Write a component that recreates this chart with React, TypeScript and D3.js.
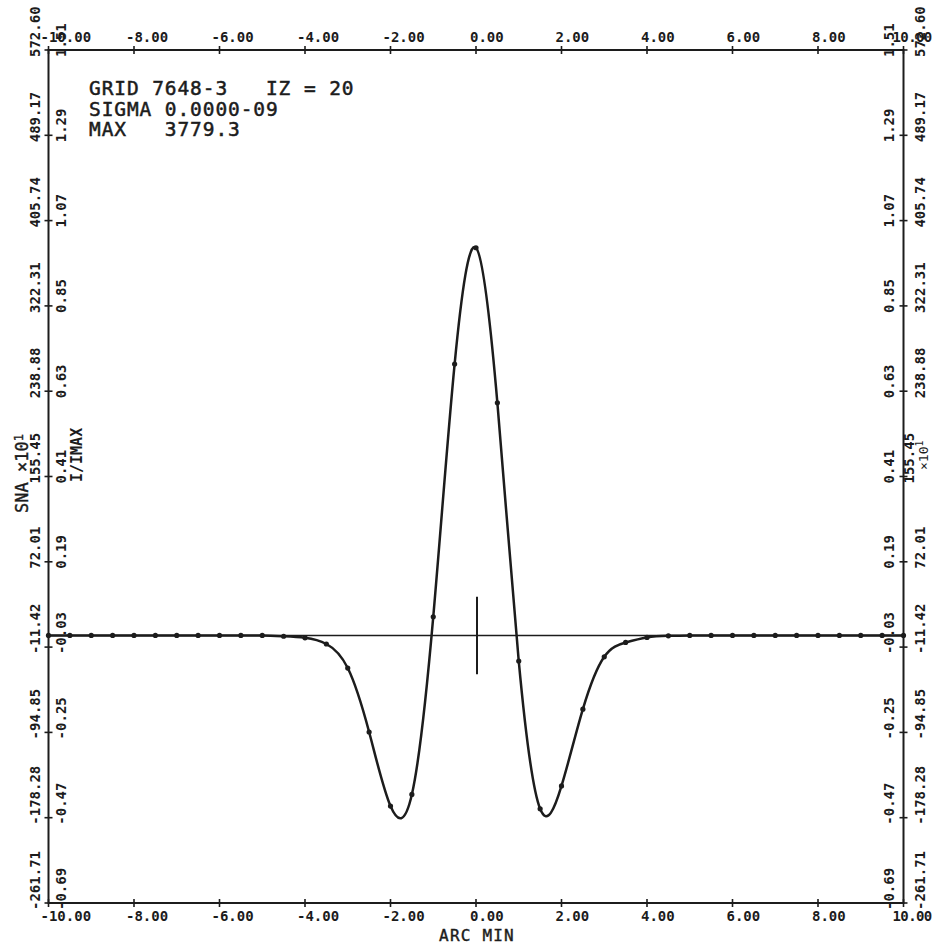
import React, { useEffect, useRef } from "react";
import * as d3 from "d3";

// sample points of the plotted curve (ARC MIN, I/IMAX)
const sampleX = [
  -10, -9.5, -9, -8.5, -8, -7.5, -7, -6.5, -6, -5.5, -5, -4.5, -4, -3.5, -3,
  -2.5, -2, -1.5, -1, -0.5, 0, 0.5, 1, 1.5, 2, 2.5, 3, 3.5, 4, 4.5, 5, 5.5, 6,
  6.5, 7, 7.5, 8, 8.5, 9, 9.5, 10
];
const sampleY = [
  0, 0, 0, 0, 0, 0, 0, 0, 0, 0, 0, -0.002, -0.006, -0.022, -0.084, -0.249,
  -0.44, -0.41, 0.048, 0.7, 1.0, 0.6, -0.066, -0.447, -0.388, -0.19, -0.055,
  -0.018, -0.005, -0.001, 0, 0, 0, 0, 0, 0, 0, 0, 0, 0, 0
];

const xTicks = [-10, -8, -6, -4, -2, 0, 2, 4, 6, 8, 10];
const xTickLabels = ["-10.00", "-8.00", "-6.00", "-4.00", "-2.00", "0.00", "2.00", "4.00", "6.00", "8.00", "10.00"];

const yTicks = [1.51, 1.29, 1.07, 0.85, 0.63, 0.41, 0.19, -0.03, -0.25, -0.47, -0.69];
const ratioLabels = ["1.51", "1.29", "1.07", "0.85", "0.63", "0.41", "0.19", "-0.03", "-0.25", "-0.47", "-0.69"];
const snaLabels = ["572.60", "489.17", "405.74", "322.31", "238.88", "155.45", "72.01", "-11.42", "-94.85", "-178.28", "-261.71"];

const header = ["GRID 7648-3   IZ = 20", "SIGMA 0.0000-09", "MAX   3779.3"];
const centerMark = [-0.1, 0.1];

const INK = "#1c1c1c";

export default function App() {
  const ref = useRef<SVGSVGElement>(null);

  useEffect(() => {
    const svg = d3.select(ref.current);
    svg.selectAll("*").remove();

    const x = d3.scaleLinear().domain([-10, 10]).range([48.5, 903.5]);
    const y = d3.scaleLinear().domain([-0.69, 1.51]).range([903, 50]);
    const mono = "'DejaVu Sans Mono', monospace";

    // zero line
    svg
      .append("line")
      .attr("x1", x(-10))
      .attr("x2", x(10))
      .attr("y1", y(0))
      .attr("y2", y(0))
      .attr("stroke", INK)
      .attr("stroke-width", 1.6);

    // frame
    svg
      .append("rect")
      .attr("x", x(-10))
      .attr("y", y(1.51))
      .attr("width", x(10) - x(-10))
      .attr("height", y(-0.69) - y(1.51))
      .attr("fill", "none")
      .attr("stroke", INK)
      .attr("stroke-width", 2);

    // x ticks + labels (top and bottom)
    xTicks.forEach((t, i) => {
      [y(1.51), y(-0.69)].forEach((yy) => {
        svg
          .append("line")
          .attr("x1", x(t))
          .attr("x2", x(t))
          .attr("y1", yy - 4)
          .attr("y2", yy + 4)
          .attr("stroke", INK)
          .attr("stroke-width", 1.6);
      });
      const lbl = xTickLabels[i];
      let off = lbl.startsWith("-") ? 8 : 6;
      if (t === 10) off = 11;
      [42, 921].forEach((by) => {
        svg
          .append("text")
          .attr("x", x(t) - off)
          .attr("y", by)
          .attr("font-family", mono)
          .attr("font-weight", "bold")
          .attr("font-size", 14)
          .attr("letter-spacing", t === 10 ? -0.6 : 0)
          .attr("fill", INK)
          .text(lbl);
      });
    });

    // y ticks + rotated labels (left and right)
    const rotText = (cx: number, cy: number, txt: string, size = 14) =>
      svg
        .append("text")
        .attr("transform", `translate(${cx},${cy}) rotate(-90)`)
        .attr("dy", "0.35em")
        .attr("font-family", mono)
        .attr("font-weight", "bold")
        .attr("font-size", size)
        .attr("fill", INK)
        .text(txt);

    yTicks.forEach((t, i) => {
      [x(-10), x(10)].forEach((xx) => {
        svg
          .append("line")
          .attr("x1", xx - 4)
          .attr("x2", xx + 4)
          .attr("y1", y(t))
          .attr("y2", y(t))
          .attr("stroke", INK)
          .attr("stroke-width", 1.6);
      });
      const yy = y(t) + 7;
      rotText(35, yy, snaLabels[i]);
      rotText(61, yy, ratioLabels[i]);
      rotText(889, yy, ratioLabels[i]);
      rotText(i === 5 ? 909 : 920, yy, snaLabels[i]);
    });

    // axis titles
    const leftTitle = svg
      .append("text")
      .attr("transform", "translate(22,513) rotate(-90)")
      .attr("dy", "0.35em")
      .attr("font-family", mono)
      .attr("font-size", 17)
      .attr("stroke", INK)
      .attr("stroke-width", 0.4)
      .attr("fill", INK);
    leftTitle.append("tspan").text("SNA  ×10");
    leftTitle.append("tspan").attr("dy", "-0.45em").attr("font-size", 12).text("1");

    rotText(77, 482, "I/IMAX", 15);

    const rightTitle = svg
      .append("text")
      .attr("transform", "translate(923,470) rotate(-90)")
      .attr("dy", "0.35em")
      .attr("font-family", mono)
      .attr("font-size", 13)
      .attr("fill", INK);
    rightTitle.append("tspan").text("×10");
    rightTitle.append("tspan").attr("dy", "-0.45em").attr("font-size", 10).text("1");

    svg
      .append("text")
      .attr("x", 477)
      .attr("y", 941)
      .attr("text-anchor", "middle")
      .attr("font-family", mono)
      .attr("font-size", 16)
      .attr("letter-spacing", 1.2)
      .attr("stroke", INK)
      .attr("stroke-width", 0.4)
      .attr("fill", INK)
      .text("ARC MIN");

    // header block
    header.forEach((h, i) => {
      svg
        .append("text")
        .attr("x", 89)
        .attr("y", 95 + i * 20.5)
        .attr("font-family", mono)
        .attr("font-size", 19.5)
        .attr("letter-spacing", 0.9)
        .attr("stroke", INK)
        .attr("stroke-width", 0.5)
        .attr("fill", INK)
        .style("white-space", "pre")
        .text(h);
    });

    // center marker
    svg
      .append("line")
      .attr("x1", x(0) + 1)
      .attr("x2", x(0) + 1)
      .attr("y1", y(centerMark[1]))
      .attr("y2", y(centerMark[0]))
      .attr("stroke", INK)
      .attr("stroke-width", 2);

    // curve
    const pts = sampleX.map((v, i) => [v, sampleY[i]] as [number, number]);
    svg
      .append("path")
      .datum(pts)
      .attr("fill", "none")
      .attr("stroke", INK)
      .attr("stroke-width", 2.5)
      .attr("stroke-linejoin", "round")
      .attr(
        "d",
        d3
          .line<[number, number]>()
          .curve(d3.curveNatural)
          .x((d) => x(d[0]))
          .y((d) => y(d[1]))
      );

    svg
      .selectAll("circle.pt")
      .data(pts)
      .enter()
      .append("circle")
      .attr("class", "pt")
      .attr("cx", (d) => x(d[0]))
      .attr("cy", (d) => y(d[1]))
      .attr("r", 2.6)
      .attr("fill", INK);
  }, []);

  return (
    <svg
      ref={ref}
      width={938}
      height={944}
      style={{ position: "absolute", left: 0, top: 0, background: "#fff" }}
    />
  );
}
